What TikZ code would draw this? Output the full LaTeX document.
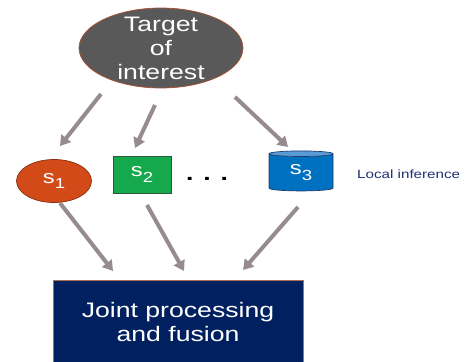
\documentclass[tikz,border=0pt]{standalone}
\usepackage{fontspec}
\setmainfont{Liberation Sans}[FakeStretch=1.27]
\usetikzlibrary{shapes.geometric,arrows.meta}

% lowered index for the sensor names
\newcommand{\sidx}[1]{\raisebox{-4.5pt}{\fontsize{12.5}{13}\selectfont #1}}

\begin{document}
\begin{tikzpicture}[x=0.03cm, y=-0.03cm,
    bigtext/.style={text=white, font=\fontsize{17.9}{20.5}\selectfont, align=center, inner sep=0pt},
    sensor/.style={inner sep=0pt, text=white, line width=0.6pt, font=\fontsize{16}{17}\selectfont},
    flow/.style={line width=0.12cm, draw=arrowgray, -{Triangle[length=0.3cm, width=0.36cm]}}]

    % Define colors
    \definecolor{targetgray}{RGB}{89,89,89}
    \definecolor{targetedge}{RGB}{170,80,50}
    \definecolor{s1red}{RGB}{210,74,23}
    \definecolor{s1edge}{RGB}{140,45,15}
    \definecolor{s2green}{RGB}{22,168,76}
    \definecolor{s2edge}{RGB}{40,90,60}
    \definecolor{s3blue}{RGB}{0,112,192}
    \definecolor{s3top}{RGB}{91,155,213}
    \definecolor{s3edge}{RGB}{30,60,110}
    \definecolor{fusionblue}{RGB}{0,32,96}
    \definecolor{fusionedge}{RGB}{170,110,90}
    \definecolor{localtext}{RGB}{32,48,112}
    \definecolor{arrowgray}{RGB}{150,139,141}

    \useasboundingbox (0,0) rectangle (468,362);

    % Target at the top
    \node[ellipse, fill=targetgray, draw=targetedge, line width=0.6pt,
          minimum width=4.92cm, minimum height=2.4cm,
          label={[bigtext]center:Target\\of\\interest}] (target) at (161,48) {};

    % Sensors with local inference
    \node[sensor, ellipse, fill=s1red, draw=s1edge,
          minimum width=2.25cm, minimum height=1.29cm] (s1) at (54,181) {s\sidx{1}};
    \node[sensor, rectangle, fill=s2green, draw=s2edge,
          minimum width=1.74cm, minimum height=1.11cm] (s2) at (142,174.5) {s\sidx{2}};
    \node[font=\fontsize{17.9}{20}\selectfont\bfseries, anchor=base, inner sep=0pt] (dots) at (207,180) {. . .};
    \node[sensor, cylinder, shape border rotate=90, aspect=0.25,
          cylinder uses custom fill, cylinder body fill=s3blue, cylinder end fill=s3top, draw=s3edge,
          minimum width=1.92cm, minimum height=1.2cm] (s3) at (301,172.5) {\raisebox{-4pt}{s\sidx{3}}};
    \node[anchor=base west, text=localtext, inner sep=0pt,
          font=\fontsize{10.2}{12}\selectfont] (local) at (357,178) {Local inference};

    % Fusion centre
    \node[rectangle, fill=fusionblue, draw=fusionedge, line width=0.6pt,
          minimum width=7.5cm, minimum height=2.52cm,
          label={[bigtext]center:Joint processing\\and fusion}] (fusion) at (178,322) {};

    % Arrow end points
    \coordinate (t1) at (101,94);   % target -> s1
    \coordinate (u1) at (60,146);
    \coordinate (t2) at (155,105);  % target -> s2
    \coordinate (u2) at (135,148);
    \coordinate (t3) at (235,97);   % target -> s3
    \coordinate (u3) at (288,147);
    \coordinate (b1) at (60,203);   % s1 -> fusion
    \coordinate (f1) at (113,271);
    \coordinate (b2) at (147,205);  % s2 -> fusion
    \coordinate (f2) at (184,271);
    \coordinate (b3) at (298,207);  % s3 -> fusion
    \coordinate (f3) at (243,270);

    % Draw the arrows
    \draw[flow] (t1) -- (u1);
    \draw[flow] (t2) -- (u2);
    \draw[flow] (t3) -- (u3);
    \draw[flow] (b1) -- (f1);
    \draw[flow] (b2) -- (f2);
    \draw[flow] (b3) -- (f3);

\end{tikzpicture}
\end{document}
